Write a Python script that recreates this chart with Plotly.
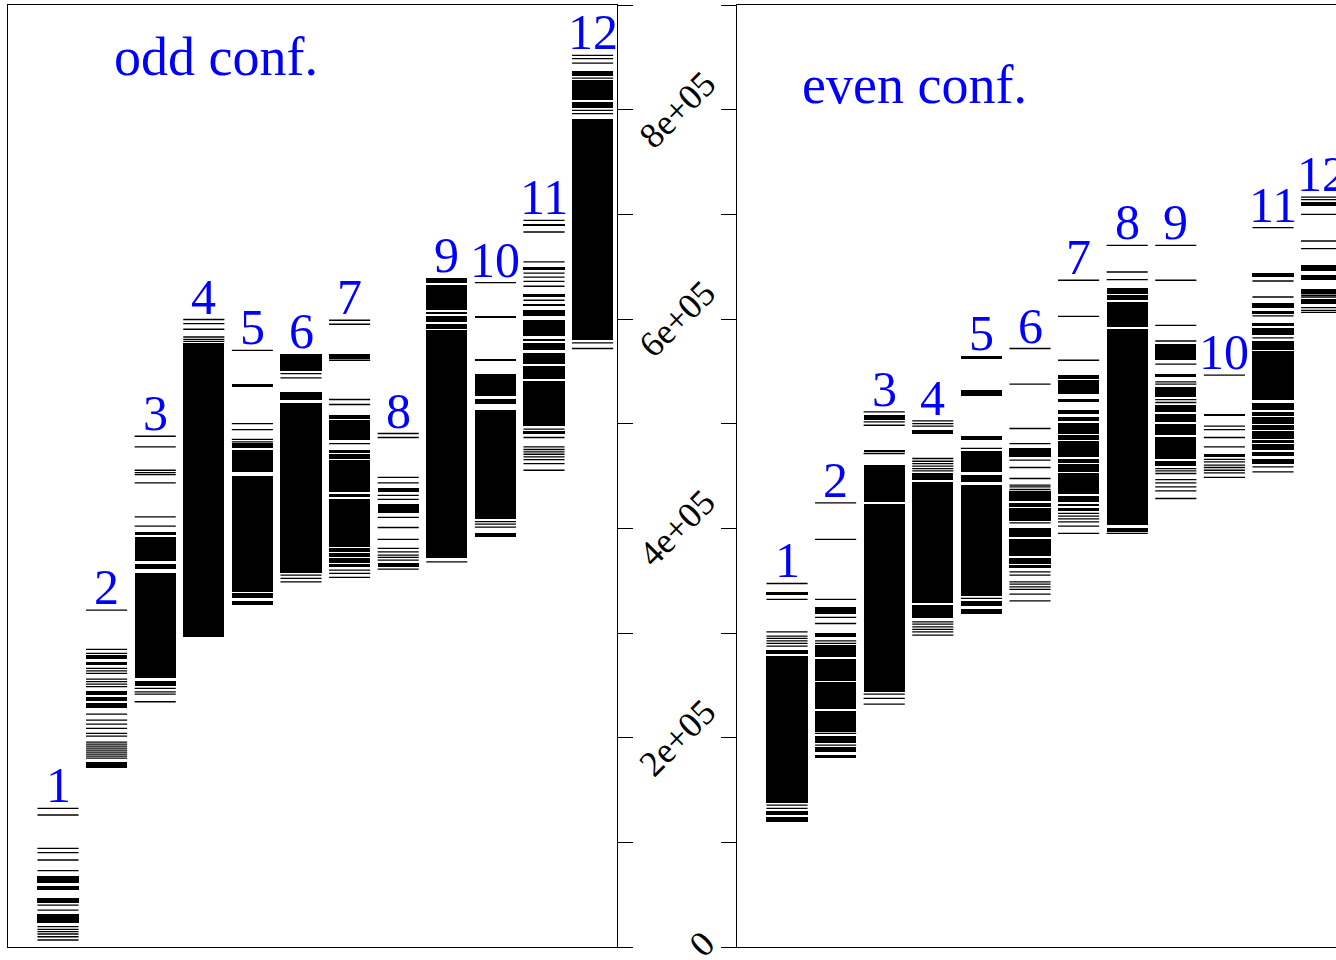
import plotly.graph_objects as go

# ---------------- data (energies) ----------------
col_labels = ["1", "2", "3", "4", "5", "6", "7", "8", "9", "10", "11", "12"]
col_pos = [1, 2, 3, 4, 5, 6, 7, 8, 9, 10, 11, 12]

# odd configuration: single levels per column
odd_levels = [
    [132500, 126100, 94300, 90100, 83100, 72900, 40100, 35300, 19400, 16900, 14600, 12400, 9800, 6700],
    [321800, 284300, 280500, 266200, 263900, 261400, 255900, 253600, 251200, 248800, 222500, 216800,
     213000, 208900, 204100, 201500, 195800, 193900, 192000, 190000, 188100, 186200, 184300, 182400, 180500],
    [488000, 477800, 455500, 453300, 451400, 443400, 410900, 402100, 247100, 243800, 241600, 234300],
    [599500, 595600, 590200, 582800, 580600, 578700],
    [570100, 500100, 494400, 484900, 482600],
    [547900, 543700, 355300, 352100, 348900],
    [598800, 595000, 560600, 523100, 518300, 481000, 360000, 356900, 353100],
    [490600, 486800, 448600, 443400, 431400, 427600, 410400, 400800, 389400, 380800, 377500, 374400,
     372200, 369600, 361000],
    [368000],
    [634800, 406400, 404000, 401100],
    [694300, 683100, 654500, 643900, 640100, 636000, 631300, 617900, 494700, 486800, 477800, 475300,
     473000, 470800, 468200, 465700, 461900, 455500],
    [851900, 848700, 844500, 830200, 799300, 796200, 577100, 571800],
]
# odd configuration: dense bands (low, high) per column
odd_bands = [
    [(60800, 67800), (54800, 58000), (42300, 46500), (23200, 31500)],
    [(274700, 278600), (269300, 272500), (240700, 244800), (235200, 238500), (228000, 232700), (171200, 177000)],
    [(393500, 396600), (368900, 391300), (360700, 365800), (256600, 356900), (249500, 254300)],
    [(296000, 577100)],
    [(535500, 537500), (477200, 481600), (453600, 474600), (339300, 449800), (333600, 337800), (326600, 330700)],
    [(550400, 567000), (522400, 530300), (357500, 519800)],
    [(562200, 567000), (504900, 508100), (484200, 503300), (472100, 475300), (466700, 470800), (434800, 465100),
     (430000, 432600), (382300, 428500), (377500, 380800), (372700, 376000), (367000, 371200), (362600, 365800)],
    [(434800, 439000), (419900, 423700), (414200, 419000), (363200, 367000)],
    [(634400, 639600), (608300, 632200), (604500, 606700), (597200, 602900), (590900, 595600), (371200, 589200)],
    [(600800, 603000), (559500, 561700), (526200, 547200), (519200, 524000), (408500, 513500), (391800, 395100)],
    [(688500, 690500), (647100, 649700), (621000, 624300), (612100, 614700), (602600, 609000), (583500, 599500),
     (579700, 581300), (570100, 577100), (557400, 567600), (543100, 554900), (497600, 540500), (489900, 492800)],
    [(831800, 836900), (809500, 828000), (801900, 807300), (579700, 791400)],
]

# even configuration
even_levels = [
    [347300, 332100, 301100, 297000, 294800, 292500, 290000, 287500, 135600, 132500],
    [424300, 389400, 332100, 314900, 309100, 292500, 290000, 204100, 192900],
    [511200, 501700, 498500, 471500, 241600, 237500, 232100],
    [502600, 500100, 497600, 466700, 464100, 461900, 459400, 457100, 454900,
     310700, 308500, 305900, 303400, 301100, 298000],
    [476300, 333000],
    [571800, 537700, 495400, 481000, 465100, 458100, 447600, 441200, 439600, 437100, 405200,
     358400, 355300, 348900, 346700, 344100, 341600, 337100, 330700],
    [637000, 602600, 560600, 414200, 411600, 409000, 406200, 402100, 395100],
    [670400, 644900, 637700, 395100],
    [670400, 637000, 594000, 579000, 556800, 539900, 537700, 523000, 520200, 457100, 454900, 452400,
     446600, 443400, 439600, 435800, 428500],
    [546300, 497600, 494400, 486800, 477800, 465800, 463500, 460300, 458100, 455500, 453000, 448600],
    [687300, 636300, 621000, 602900, 581900, 458700, 453900],
    [716500, 714100, 700000, 674500, 667200, 622700, 621000, 610900, 608300, 606400],
]
even_bands = [
    [(336200, 339300), (279800, 283600), (137800, 277900), (126100, 130200), (119700, 123900)],
    [(318000, 325000), (295800, 299600), (277200, 288400), (254300, 275000), (227000, 253100), (205600, 225700),
     (195100, 201500), (186500, 190700), (180200, 183400)],
    [(503900, 508100), (473000, 475300), (425300, 460300), (243800, 423100)],
    [(490600, 493700), (446000, 452400), (328200, 444400), (313900, 326600)],
    [(562000, 564300), (526500, 532600), (484800, 488000), (453900, 474000), (444400, 450800), (335200, 441200),
     (325700, 330700), (318000, 322500)],
    [(467700, 477200), (426200, 435500), (420500, 424300), (407100, 419000), (391300, 400800), (373400, 389400),
     (366400, 371200), (361700, 364800)],
    [(543100, 546300), (528100, 541500), (520500, 523600), (509600, 513500), (502600, 506400), (490600, 500700),
     (484800, 489000), (468200, 483500), (462500, 465800), (453900, 461000), (432600, 452400), (425300, 430700),
     (421200, 423700), (416700, 419000)],
    [(624200, 630000), (618600, 622700), (609000, 616300), (592400, 608300), (403000, 590900), (396600, 400800)],
    [(561300, 575900), (544600, 547200), (525500, 535100), (511200, 517600), (501700, 509600), (488900, 499500),
     (466700, 487300), (459400, 464400)],
    [(507000, 509200), (468200, 470800)],
    [(640100, 643900), (610900, 615700), (605200, 607700), (593700, 596200), (584500, 591800), (570800, 579400),
     (522400, 569500), (512800, 519800), (507100, 511200), (500100, 505900), (494400, 498500), (485800, 493100),
     (481600, 484200), (474600, 480400), (468900, 473000), (461300, 466700)],
    [(708300, 711500), (645900, 651300), (637700, 641800), (624200, 628700), (614700, 619100)],
]

panel_titles = ["odd conf.", "even conf."]
tick_vals = [0, 200000, 400000, 600000, 800000]
tick_text = ["0", "2e+05", "4e+05", "6e+05", "8e+05"]

# ---------------- figure ----------------
W, H = 1336, 960
ML, MR, MT, MB = 8, 0, 5, 13
PW = W - ML - MR
HALF = 0.423
BLUE = "#0000FF"
SERIF = "Liberation Serif, Times New Roman, serif"

fig = go.Figure()


def add_panel(levels, bands, xa, ya):
    lx, ly = [], []
    for c, lev in zip(col_pos, levels):
        for e in lev:
            lx += [c - HALF, c + HALF, None]
            ly += [e, e, None]
    fig.add_trace(go.Scatter(x=lx, y=ly, mode="lines", line=dict(color="black", width=1.3),
                             xaxis=xa, yaxis=ya, hoverinfo="skip", showlegend=False))
    bx, bb, bh = [], [], []
    for c, bl in zip(col_pos, bands):
        for lo, hi in bl:
            bx.append(c)
            bb.append(lo)
            bh.append(hi - lo)
    fig.add_trace(go.Bar(x=bx, base=bb, y=bh, width=2 * HALF, marker=dict(color="black", line=dict(width=0)),
                         xaxis=xa, yaxis=ya, hoverinfo="skip", showlegend=False))
    # column numbers above the highest level
    for c, lab, lev, bl in zip(col_pos, col_labels, levels, bands):
        top = max(list(lev) + [hi for lo, hi in bl])
        fig.add_annotation(x=c, y=top, xref=xa, yref=ya, text=lab, showarrow=False,
                           xanchor="center", yanchor="bottom", yshift=-7,
                           font=dict(family=SERIF, size=50, color=BLUE))


add_panel(odd_levels, odd_bands, "x", "y")
add_panel(even_levels, even_bands, "x2", "y2")

axis_common = dict(showgrid=False, zeroline=False, showline=True, linecolor="black", linewidth=1.3)

fig.update_layout(
    width=W, height=H, margin=dict(l=ML, r=MR, t=MT, b=MB),
    paper_bgcolor="white", plot_bgcolor="white", barmode="overlay", bargap=0,
    xaxis=dict(domain=[0, 609 / PW], range=[-0.029, 12.502], mirror=True, ticks="",
               showticklabels=False, anchor="y", **axis_common),
    yaxis=dict(range=[0, 900000], side="right", mirror=True, ticks="outside", ticklen=15,
               tickwidth=1.3, tickcolor="black", tick0=0, dtick=100000, showticklabels=False,
               anchor="x", **axis_common),
    xaxis2=dict(domain=[729 / PW, 1], range=[-0.029, 12.296], mirror=True, ticks="",
                showticklabels=False, anchor="y2", **axis_common),
    yaxis2=dict(range=[0, 900000], side="left", mirror=False, ticks="outside", ticklen=15,
                tickwidth=1.3, tickcolor="black", tick0=0, dtick=100000, showticklabels=False,
                anchor="x2", **axis_common),
)

# rotated tick labels between the panels
for v, t in zip(tick_vals, tick_text):
    xpx = 702 if t == "0" else 677
    fig.add_annotation(x=(xpx - ML) / PW, xref="paper", y=v, yref="y", text=t, showarrow=False,
                       textangle=-45, xanchor="center", yanchor="middle",
                       yshift=3 if t == "0" else 0,
                       font=dict(family=SERIF, size=36, color="black"))

# panel titles
fig.add_annotation(x=(112 - ML) / PW, xref="paper", y=850000, yref="y", text=panel_titles[0],
                   showarrow=False, xanchor="left", yanchor="middle",
                   font=dict(family=SERIF, size=54, color=BLUE))
fig.add_annotation(x=(800 - ML) / PW, xref="paper", y=824000, yref="y", text=panel_titles[1],
                   showarrow=False, xanchor="left", yanchor="middle",
                   font=dict(family=SERIF, size=54, color=BLUE))

fig.write_html("out.html", config={"displayModeBar": False},
               post_script="document.body.style.margin='0px';document.body.style.overflow='hidden';")
